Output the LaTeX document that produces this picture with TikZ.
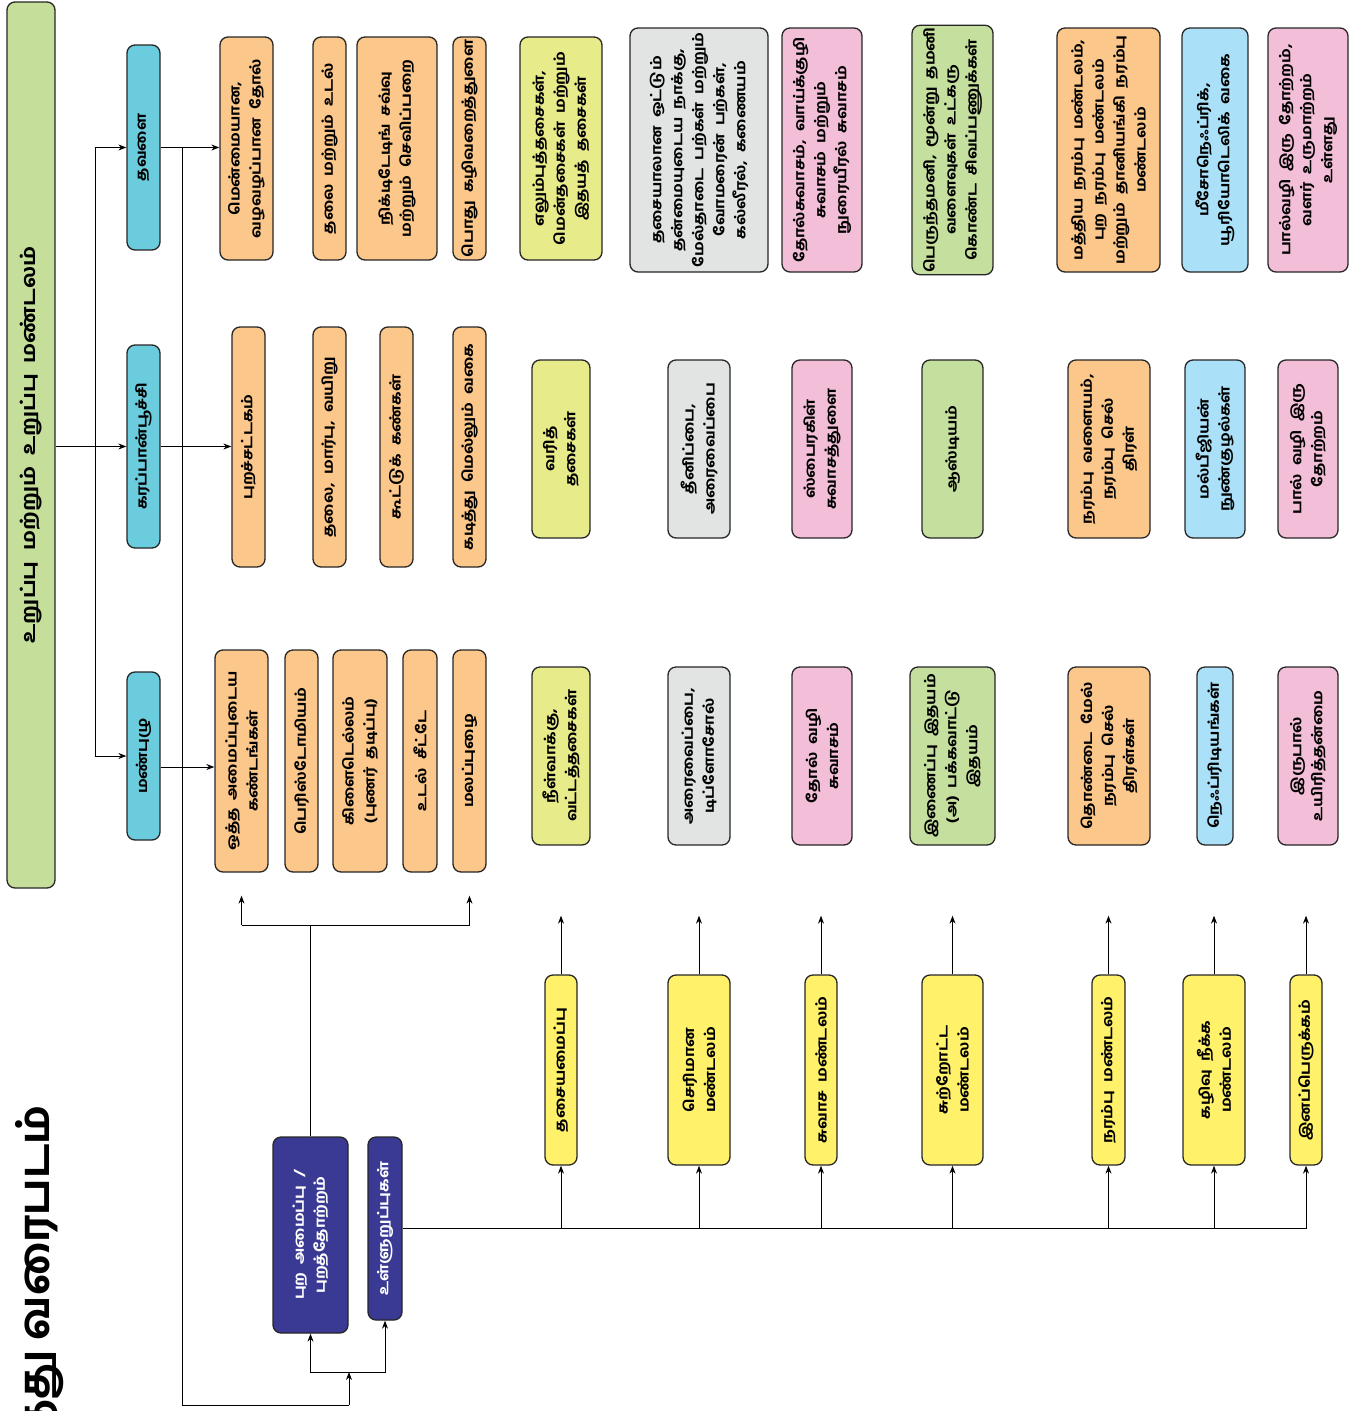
\documentclass[tikz,border=0pt]{standalone}
\usepackage{fontspec}
\setmainfont{Hind Madurai}[Script=Tamil, BoldFont={Hind Madurai Bold},
  BoldFeatures={FakeStretch=1.14, WordSpace=2}]
\newfontfamily\capfont{Hind Madurai Bold}[Script=Tamil]
\usepackage{tikz}
\usetikzlibrary{calc, arrows.meta, positioning}
\definecolor{titlegreen}{RGB}{197,223,154}
\definecolor{animalcyan}{RGB}{106,204,221}
\definecolor{softorange}{RGB}{252,199,138}
\definecolor{musyellow}{RGB}{232,235,138}
\definecolor{diggrey}{RGB}{226,227,227}
\definecolor{respink}{RGB}{243,190,216}
\definecolor{cirgreen}{RGB}{197,224,158}
\definecolor{excblue}{RGB}{171,225,248}
\definecolor{sysyellow}{RGB}{255,242,106}
\definecolor{deepindigo}{RGB}{58,58,148}

\begin{document}
\begin{tikzpicture}[
  x=1pt, y=-1pt,
  >={Stealth[length=8pt, width=6pt]},
  every path/.style={line width=1pt},
  bx/.style={draw=black!85, line width=1.3pt, rounded corners=8pt, rotate=90, align=center,
             inner sep=2pt, font=\bfseries\fontsize{14}{21}\selectfont},
  ani/.style={bx, fill=animalcyan, minimum height=33pt},
  ext/.style={bx, fill=softorange},
  sys/.style={bx, fill=sysyellow, minimum width=190pt},
  part/.style={bx, fill=deepindigo, text=white, minimum width=196pt}
]
\useasboundingbox (0,0) rectangle (1356,1411);

% title and big caption
\node[bx, fill=titlegreen, minimum width=886pt, minimum height=48pt,
      font=\bfseries\fontsize{19}{24}\selectfont] (title) at (31,445)
  {உறுப்பு மற்றும் உறுப்பு மண்டலம்};
\node[rotate=90, anchor=east, inner sep=0pt, font=\capfont\fontsize{42}{46}\selectfont]
  (cap) at (40,1105) {கருத்து வரைபடம்};

% animals
\node[ani, minimum width=205pt] (fr) at (143.5,147.5) {தவளை};
\node[ani, minimum width=203pt] (cr) at (143.5,446.5) {கரப்பான்பூச்சி};
\node[ani, minimum width=168pt] (ew) at (143.5,756) {மண்புழு};

% external features: frog
\node[ext, minimum width=223pt, minimum height=53pt] (f1) at (246.5,148.5) {மென்மையான,\\வழவழப்பான தோல்};
\node[ext, minimum width=223pt, minimum height=33pt] (f2) at (329.5,148.5) {தலை மற்றும் உடல்};
\node[ext, minimum width=223pt, minimum height=80pt] (f3) at (397,148.5) {நிக்டிடேடிங் சவ்வு\\மற்றும் செவிப்பறை};
\node[ext, minimum width=223pt, minimum height=33pt] (f4) at (469.5,148.5) {பொது கழிவறைத்துளை};
% external features: cockroach
\node[ext, minimum width=240pt, minimum height=33pt] (c1) at (248.5,447) {புறச்சட்டகம்};
\node[ext, minimum width=240pt, minimum height=33pt] (c2) at (329.5,447) {தலை, மார்பு, வயிறு};
\node[ext, minimum width=240pt, minimum height=33pt] (c3) at (396.5,447) {கூட்டுக் கண்கள்};
\node[ext, minimum width=240pt, minimum height=33pt] (c4) at (469.5,447) {கடித்து மெல்லும் வகை};
% external features: earthworm
\node[ext, minimum width=222pt, minimum height=53pt] (e1) at (241.5,761) {ஒத்த அமைப்புடைய\\கண்டங்கள்};
\node[ext, minimum width=222pt, minimum height=33pt] (e2) at (301.5,761) {பெரிஸ்டோமியம்};
\node[ext, minimum width=222pt, minimum height=54pt] (e3) at (360,761) {கிளைடெல்லம்\\(புணர் தடிப்பு)};
\node[ext, minimum width=222pt, minimum height=34pt] (e4) at (420,761) {உடல் சீட்டே};
\node[ext, minimum width=222pt, minimum height=33pt] (e5) at (469.5,761) {மலப்புழை};

% organ systems: frog
\node[bx, fill=musyellow, minimum width=223pt, minimum height=82pt] (frmus) at (561,148.5) {எலும்புத்தசைகள்,\\மென்தசைகள் மற்றும்\\இதயத் தசைகள்};
\node[bx, fill=diggrey, minimum width=244pt, minimum height=138pt] (frdig) at (699,150) {தசையாலான ஒட்டும்\\தன்மையுடைய நாக்கு,\\மேல்தாடை பற்கள் மற்றும்\\வோமரைன் பற்கள்,\\கல்லீரல், கணையம்};
\node[bx, fill=respink, minimum width=244pt, minimum height=80pt] (frres) at (822,150) {தோல்சுவாசம், வாய்க்குழி\\சுவாசம் மற்றும்\\நுரையீரல் சுவாசம்};
\node[bx, fill=cirgreen, minimum width=244pt, minimum height=81pt] (frcir) at (952.5,150) {பெருந்தமனி, மூன்று தமனி\\வளைவுகள் உட்கரு\\கொண்ட சிவப்பணுக்கள்};
\node[bx, fill=softorange, minimum width=244pt, minimum height=103pt] (frner) at (1108.5,150) {மத்திய நரம்பு மண்டலம்,\\புற நரம்பு மண்டலம்\\மற்றும் தானியங்கி நரம்பு\\மண்டலம்};
\node[bx, fill=excblue, minimum width=244pt, minimum height=66pt] (frexc) at (1215,150) {மீசோநெஃப்ரிக்,\\யூரியோடெலிக் வகை};
\node[bx, fill=respink, minimum width=244pt, minimum height=80pt] (frrep) at (1308,150) {பால்வழி இரு தோற்றம்,\\வளர் உருமாற்றம்\\உள்ளது};

% organ systems: cockroach
\node[bx, fill=musyellow, minimum width=178pt, minimum height=58pt] (crmus) at (561,449) {வரித்\\தசைகள்};
\node[bx, fill=diggrey, minimum width=178pt, minimum height=62pt] (crdig) at (699,449) {தீனிப்பை,\\அரைவைப்பை};
\node[bx, fill=respink, minimum width=178pt, minimum height=60pt] (crres) at (822,449) {ஸ்பைரகிள்\\சுவாசத்துளை};
\node[bx, fill=cirgreen, minimum width=178pt, minimum height=61pt] (crcir) at (952.5,449) {ஆஸ்டியம்};
\node[bx, fill=softorange, minimum width=178pt, minimum height=82pt] (crner) at (1109,449) {நரம்பு வளையம்,\\நரம்பு செல்\\திரள்};
\node[bx, fill=excblue, minimum width=178pt, minimum height=60pt] (crexc) at (1215,449) {மல்பீஜியன்\\நுண்குழல்கள்};
\node[bx, fill=respink, minimum width=178pt, minimum height=60pt] (crrep) at (1308,449) {பால் வழி இரு\\தோற்றம்};

% organ systems: earthworm
\node[bx, fill=musyellow, minimum width=178pt, minimum height=58pt] (ewmus) at (561,756) {நீள்வாக்கு,\\வட்டத்தசைகள்};
\node[bx, fill=diggrey, minimum width=178pt, minimum height=62pt] (ewdig) at (699,756) {அரைவைப்பை,\\டிப்ளோசோல்};
\node[bx, fill=respink, minimum width=178pt, minimum height=60pt] (ewres) at (822,756) {தோல் வழி\\சுவாசம்};
\node[bx, fill=cirgreen, minimum width=178pt, minimum height=85pt] (ewcir) at (952.5,756) {இணைப்பு இதயம்\\(அ) பக்கவாட்டு\\இதயம்};
\node[bx, fill=softorange, minimum width=178pt, minimum height=82pt] (ewner) at (1109,756) {தொண்டை மேல்\\நரம்பு செல்\\திரள்கள்};
\node[bx, fill=excblue, minimum width=178pt, minimum height=36pt] (ewexc) at (1215,756) {நெஃப்ரிடியங்கள்};
\node[bx, fill=respink, minimum width=178pt, minimum height=60pt] (ewrep) at (1308,756) {இருபால்\\உயிரித்தன்மை};

% system labels
\node[sys, minimum height=32pt] (mus) at (561,1070) {தசையமைப்பு};
\node[sys, minimum height=62pt] (dig) at (699,1070) {செரிமான\\மண்டலம்};
\node[sys, minimum height=32pt] (res) at (821,1070) {சுவாச மண்டலம்};
\node[sys, minimum height=61pt] (cir) at (952.5,1070) {சுற்றோட்ட\\மண்டலம்};
\node[sys, minimum height=33pt] (ner) at (1108.5,1070) {நரம்பு மண்டலம்};
\node[sys, minimum height=62pt] (exc) at (1214,1070) {கழிவு நீக்க\\மண்டலம்};
\node[sys, minimum height=32pt] (rep) at (1306,1070) {இனப்பெருக்கம்};

% outer / inner
\node[part, minimum height=75pt] (outer) at (310.5,1235) {புற அமைப்பு /\\புறத்தோற்றம்};
\node[part, minimum width=183pt, minimum height=34pt] (inner) at (385,1228.5) {உள்ளுறுப்புகள்};

% title to animals
\coordinate (hub) at (95,0);
\draw[->] (title.south |- cr) -- (cr.north);
\draw (hub |- fr) -- (hub |- ew);
\draw[->] (hub |- fr) -- (fr.north);
\draw[->] (hub |- ew) -- (ew.north);
\draw[->] (fr.south) -- (fr.south -| f1.north);
\draw[->] (cr.south) -- (cr.south -| c1.north);
\draw[->] ([yshift=-11pt]ew.south) -- ([yshift=-11pt]ew.south -| e1.north);

% frog line down to outer / inner
\coordinate (drop) at (182,1405);
\coordinate (base) at (349,1405);
\coordinate (fork) at (349,1372);
\draw (fr.south -| drop) -- (drop) -- (base);
\draw[->] (base) -- (fork);
\draw[->] (fork) -| (outer.west);
\draw[->] (fork) -| (inner.west);

% outer to earthworm features
\coordinate (tee) at (0,925);
\draw (outer.east) -- (outer.east |- tee);
\draw (e1.west |- tee) -- (e5.west |- tee);
\draw[->, shorten >=23pt] (e1.west |- tee) -- (e1.west);
\draw[->, shorten >=23pt] (e5.west |- tee) -- (e5.west);

% inner to systems
\draw (inner.south) -- (inner.south -| rep.west);
\draw[->] (inner.south -| mus.west) -- (mus.west);
\draw[->] (inner.south -| dig.west) -- (dig.west);
\draw[->] (inner.south -| res.west) -- (res.west);
\draw[->] (inner.south -| cir.west) -- (cir.west);
\draw[->] (inner.south -| ner.west) -- (ner.west);
\draw[->] (inner.south -| exc.west) -- (exc.west);
\draw[->] (inner.south -| rep.west) -- (rep.west);

% systems up to earthworm row
\draw[->, shorten >=70pt] (mus.east) -- (mus.east |- ewmus.west);
\draw[->, shorten >=70pt] (dig.east) -- (dig.east |- ewdig.west);
\draw[->, shorten >=70pt] (res.east) -- (res.east |- ewres.west);
\draw[->, shorten >=70pt] (cir.east) -- (cir.east |- ewcir.west);
\draw[->, shorten >=70pt] (ner.east) -- (ner.east |- ewner.west);
\draw[->, shorten >=70pt] (exc.east) -- (exc.east |- ewexc.west);
\draw[->, shorten >=70pt] (rep.east) -- (rep.east |- ewrep.west);
\end{tikzpicture}
\end{document}
